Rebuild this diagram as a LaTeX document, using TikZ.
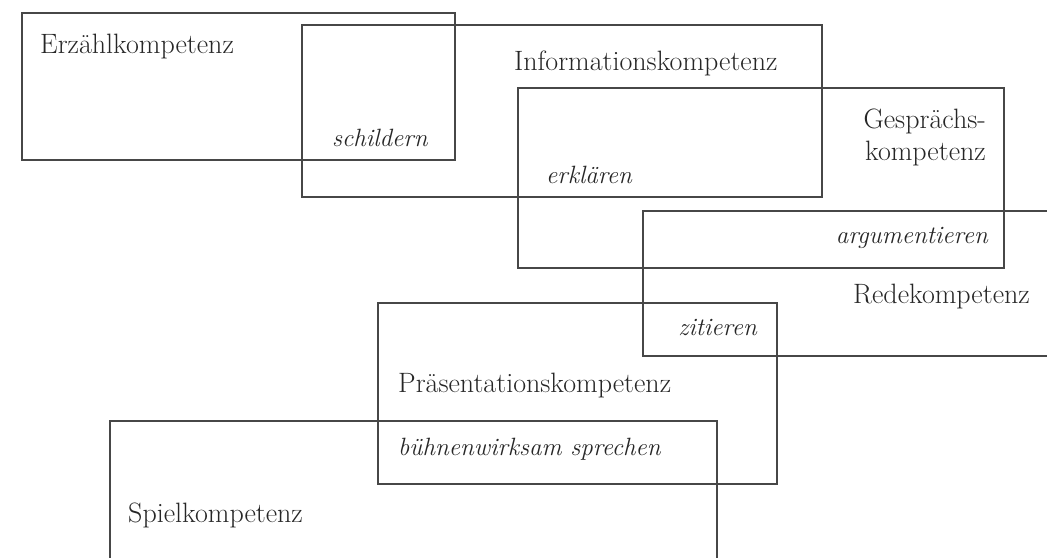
\documentclass[tikz,border=0pt]{standalone}
\begin{document}
\begin{tikzpicture}[x=1pt,y=-1pt,
  box/.style={draw=black!72,line width=1.7pt},
  lbl/.style={inner sep=0pt,text=black!85,font=\fontsize{28}{32}\selectfont},
  verb/.style={inner sep=0pt,text=black!85,font=\fontsize{25}{30}\selectfont\itshape}]
\useasboundingbox (0,0) rectangle (1047,557);
\clip (0,0) rectangle (1047,557);
% boxes
\draw[box] (22,13) rectangle (455,160);
\draw[box] (302,25) rectangle (822,197);
\draw[box] (518,88) rectangle (1004,268);
\draw[box] (643,211) rectangle (1070,356);
\draw[box] (378,303) rectangle (777,484);
\draw[box] (110,421) rectangle (717,580);
% competence labels
\node[lbl,anchor=base west] (erz) at (40,53) {Erzählkompetenz};
\node[lbl,anchor=base west] (inf) at (514,70) {Informationskompetenz};
\node[lbl,anchor=base east,align=right] (ges) at (986,160) {Gesprächs-\\kompetenz};
\node[lbl,anchor=base east] (red) at (1030,303) {Redekompetenz};
\node[lbl,anchor=base west] (pra) at (398,392) {Präsentationskompetenz};
\node[lbl,anchor=base west] (spi) at (128,522) {Spielkompetenz};
% verbs
\node[verb,anchor=base west] (sch) at (332,146) {schildern};
\node[verb,anchor=base west] (erk) at (546,183) {erklären};
\node[verb,anchor=base east] (arg) at (988,243) {argumentieren};
\node[verb,anchor=base east] (zit) at (757,335) {zitieren};
\node[verb,anchor=base west] (bue) at (398,455) {bühnenwirksam sprechen};
\end{tikzpicture}
\end{document}
